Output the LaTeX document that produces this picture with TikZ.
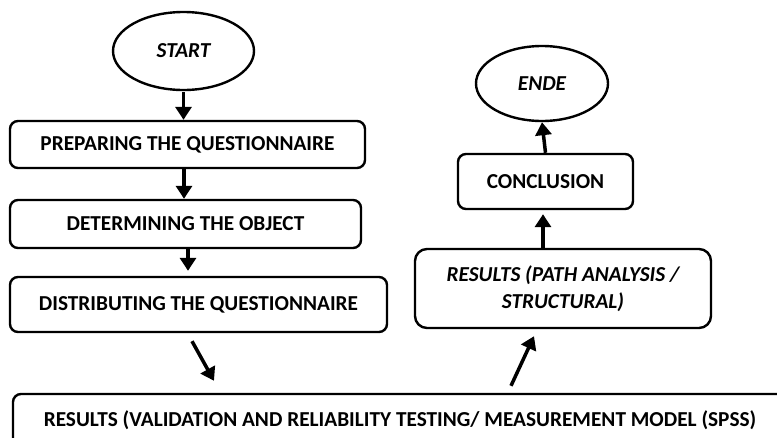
\documentclass[tikz,border=0pt]{standalone}
\usepackage{fontspec}
\setmainfont{Carlito}
\usetikzlibrary{shapes.geometric,arrows.meta,calc}
\begin{document}
\begin{tikzpicture}[x=1pt,y=-1pt,
  txt/.style={font=\fontsize{21.3}{27}\selectfont\bfseries, align=center, inner sep=0pt},
  stepbox/.style={txt, draw, line width=2.4pt, rounded corners=8pt, rectangle},
  oval/.style={txt, draw, line width=2.4pt, ellipse, font=\fontsize{21.3}{27}\selectfont\bfseries\itshape},
  arr/.style={line width=3.5pt, -{Triangle[width=16pt,length=13pt]}}]
\useasboundingbox (0,0) rectangle (777,437);
\clip (0,0) rectangle (777,437);
\node[oval, minimum width=141, minimum height=78] (start) at (183.5,51) {START};
\node[stepbox, minimum width=355, minimum height=47] (prep) at (187.5,144.5) {PREPARING THE QUESTIONNAIRE};
\node[stepbox, minimum width=351, minimum height=48] (det) at (185.5,224) {DETERMINING THE OBJECT};
\node[stepbox, minimum width=377, minimum height=55] (dist) at (198.5,304.5) {DISTRIBUTING THE QUESTIONNAIRE};
\node[stepbox, minimum width=774, minimum height=52] (res1) at (400,420) {RESULTS (VALIDATION AND RELIABILITY TESTING/ MEASUREMENT MODEL (SPSS)};
\node[stepbox, rounded corners=12pt, minimum width=296, minimum height=79, font=\fontsize{21.3}{27}\selectfont\bfseries\itshape] (rp) at (563,288.5) {RESULTS (PATH ANALYSIS /\\ STRUCTURAL)};
\node[stepbox, minimum width=175, minimum height=55] (conc) at (545.5,181.5) {CONCLUSION};
\node[oval, minimum width=132, minimum height=75] (ende) at (542,83.5) {ENDE};
\draw[arr] ([yshift=-1]start.south) -- (start.south |- prep.north);
\draw[arr] ([xshift=-3.5]prep.south) -- ([xshift=-3.5]prep.south |- det.north);
\draw[arr] ([xshift=2.5]det.south) -- ([xshift=2.5,yshift=5]det.south |- dist.north);
\draw[arr] ($(dist.south)+(-6.5,8)$) -- ($(res1.north)+(-186,-12)$);
\draw[arr] ($(res1.north)+(111,-7)$) -- ($(rp.south)+(-29,7)$);
\draw[arr] ([xshift=-20]rp.north) -- ([xshift=-2.5,yshift=-4]conc.south);
\draw[arr] (conc.north) -- ([xshift=-3.5]conc.north |- ende.south);
\end{tikzpicture}
\end{document}
